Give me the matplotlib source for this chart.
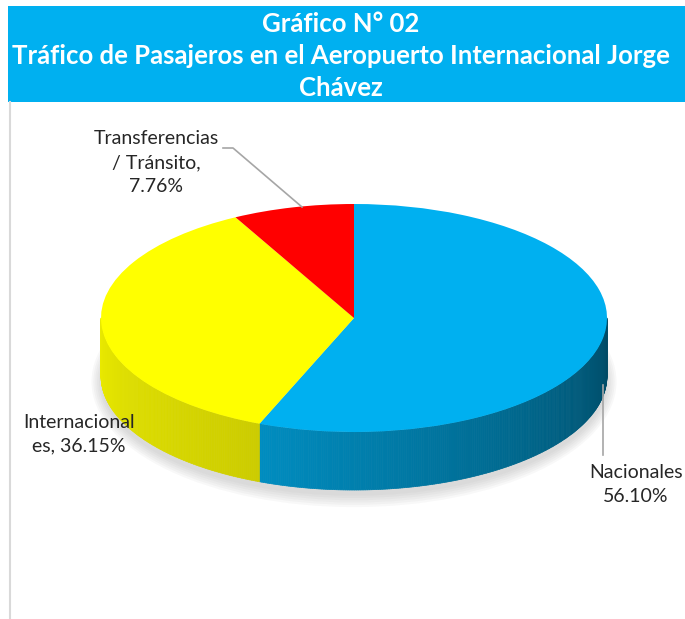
import numpy as np
import matplotlib.pyplot as plt
from matplotlib.patches import Rectangle, Ellipse
from matplotlib.collections import PolyCollection

# Datos del gráfico
categorias = ["Nacionales", "Internacionales", "Transferencias / Tránsito"]
porcentajes = [56.10, 36.15, 7.76]
colores = ["#00B0F0", "#FFFF00", "#FF0000"]
etiquetas = ["Nacionales\n56.10%", "Internacional\nes, 36.15%", "Transferencias\n/ Tránsito,\n7.76%"]
titulo = "Gráfico N° 02\nTráfico de Pasajeros en el Aeropuerto Internacional Jorge\nChávez"

plt.rcParams['font.family'] = ['Lato', 'DejaVu Sans']

W, H = 685, 619
fig = plt.figure(figsize=(W / 100, H / 100), dpi=100)

# Fondo: banda del título y borde (coordenadas en píxeles)
bg = fig.add_axes([0, 0, 1, 1])
bg.set_xlim(0, W)
bg.set_ylim(H, 0)
bg.axis("off")
bg.add_patch(Rectangle((8, 6), W - 8, 96, color="#00B0F0", lw=0))
bg.plot([10.5, 10.5], [102, H], color="#D9D9D9", lw=1.5)
bg.text(341, 56, titulo, ha="center", va="center", color="white",
        fontsize=18.5, fontweight="bold", linespacing=1.38)

# Geometría del pastel 3D (píxeles)
cx, cy, a, b, prof = 354, 318, 253, 114, 58
xl, yl = (-1.3, 1.3), (-1.8, 1.3)
izq = cx + xl[0] * a
arriba = cy - yl[1] * b
ancho = (xl[1] - xl[0]) * a
alto = (yl[1] - yl[0]) * b
ax = fig.add_axes([izq / W, (H - arriba - alto) / H, ancho / W, alto / H])
ax.patch.set_alpha(0)

d = prof / b

# Sombra
for k in range(6):
    ax.add_patch(Ellipse((0, -d - 0.05), 2.0 + 0.015 * k, 2.0 + 0.04 * k,
                         color="#7f7f7f", alpha=0.05, lw=0, zorder=0))

# Paredes laterales
fr = np.array(porcentajes) / sum(porcentajes)
acum = np.concatenate([[0], np.cumsum(fr)])
sombreado = [(0.80, 0.42), (0.92, 0.80), (0.7, 0.5)]
for i in range(len(porcentajes)):
    t_fin = 90 - 360 * acum[i]
    t_ini = 90 - 360 * acum[i + 1]
    for shift in (0, 360, -360):
        lo = max(t_ini + shift, -180)
        hi = min(t_fin + shift, 0)
        if hi <= lo:
            continue
        ts = np.linspace(lo, hi, int((hi - lo) * 2) + 2)
        base = np.array(plt.matplotlib.colors.to_rgb(colores[i]))
        polys, cols = [], []
        for t0, t1 in zip(ts[:-1], ts[1:]):
            r0, r1 = np.radians(t0), np.radians(t1)
            polys.append([(np.cos(r0), np.sin(r0)), (np.cos(r1), np.sin(r1)),
                          (np.cos(r1), np.sin(r1) - d), (np.cos(r0), np.sin(r0) - d)])
            f0, f1 = sombreado[i]
            frac = (0.5 * (t0 + t1) - lo) / max(hi - lo, 1e-9)
            if i == 0:
                frac = (0.5 * (t0 + t1) - t_ini) / (0 - t_ini)
            f = f0 + (f1 - f0) * frac
            cols.append(np.clip(base * f, 0, 1))
        ax.add_collection(PolyCollection(polys, facecolors=cols, edgecolors=cols,
                                         lw=0.5, zorder=1))

# Cara superior
wedges, _ = ax.pie(porcentajes, colors=colores, startangle=90, counterclock=False,
                   radius=1, center=(0, 0), wedgeprops=dict(linewidth=0))
for w in wedges:
    w.set_zorder(2)
ax.set_aspect("auto")
ax.set_xlim(*xl)
ax.set_ylim(*yl)
ax.axis("off")

# Etiquetas y líneas guía (capa superior)
top = fig.add_axes([0, 0, 1, 1])
top.set_xlim(0, W)
top.set_ylim(H, 0)
top.axis("off")
top.patch.set_alpha(0)
txt = dict(ha="center", va="center", fontsize=14, color="#262626", linespacing=1.5)
top.text(636, 484, etiquetas[0], **txt)
top.text(79, 434, etiquetas[1], **txt)
top.text(156, 163, etiquetas[2], **txt)
top.plot([603, 603], [385, 455], color="#A6A6A6", lw=1.2)
top.plot([223, 233, 302], [148, 148, 207], color="#A6A6A6", lw=1.2)

fig.savefig("out.png", dpi=100)
